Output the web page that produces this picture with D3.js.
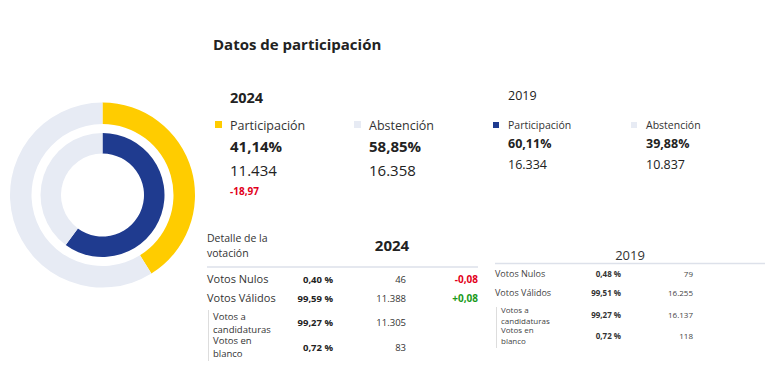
<!DOCTYPE html>
<html>
<head>
<meta charset="utf-8">
<script src="https://cdn.jsdelivr.net/npm/d3@7"></script>
<style>
  body { margin: 0; background: #fff; }
  svg text { font-family: "Open Sans", sans-serif; fill: #222; }
</style>
</head>
<body>
<script>
// participation data
const years = ["2024", "2019"];
const participacionPct = [41.14, 60.11];
const abstencionPct = [58.85, 39.88];
const participacionVotos = ["11.434", "16.334"];
const abstencionVotos = ["16.358", "10.837"];
const diffParticipacion = "-18,97";

// vote detail
const detalleLabels = [["Votos Nulos"], ["Votos Válidos"], ["Votos a", "candidaturas"], ["Votos en", "blanco"]];
const pct2024 = ["0,40 %", "99,59 %", "99,27 %", "0,72 %"];
const votos2024 = ["46", "11.388", "11.305", "83"];
const diff2024 = ["-0,08", "+0,08", "", ""];
const pct2019 = ["0,48 %", "99,51 %", "99,27 %", "0,72 %"];
const votos2019 = ["79", "16.255", "16.137", "118"];

const yellow = "#ffcc00", blue = "#1f3b8f", grey = "#e7ebf4";
const red = "#e2001a", green = "#1a9a1a";

const svg = d3.select("body").append("svg")
    .attr("width", 768)
    .attr("height", 389);

const fmt = v => d3.format(".2f")(v).replace(".", ",") + "%";

// Donut rings
const pie = d3.pie().sort(null).value(d => d);
const ring = svg.append("g").attr("transform", "translate(102.5,195)");

const rings = [
    { data: [participacionPct[0], 100 - participacionPct[0]], colors: [yellow, grey], inner: 71, outer: 92.5 },
    { data: [participacionPct[1], 100 - participacionPct[1]], colors: [blue, grey], inner: 41.5, outer: 62 }
];

rings.forEach(r => {
    const arc = d3.arc().innerRadius(r.inner).outerRadius(r.outer);
    ring.append("g").selectAll("path")
        .data(pie(r.data)).enter()
        .append("path")
        .attr("d", arc)
        .attr("fill", (d, i) => r.colors[i]);
});

// Title
svg.append("text")
    .attr("x", 213).attr("y", 50)
    .style("font-size", "15px").style("font-weight", "700")
    .text("Datos de participación");

// 2024 block
const b24 = svg.append("g");
b24.append("text").attr("x", 230).attr("y", 103)
    .style("font-size", "14.5px").style("font-weight", "700").text(years[0]);

[[215, yellow, "Participación", participacionPct[0], participacionVotos[0]],
 [354, grey, "Abstención", abstencionPct[0], abstencionVotos[0]]].forEach(c => {
    b24.append("rect").attr("x", c[0]).attr("y", 121).attr("width", 7).attr("height", 7).attr("fill", c[1]);
    b24.append("text").attr("x", c[0] + 15).attr("y", 130).style("font-size", "12.5px").style("fill", "#333").text(c[2]);
    b24.append("text").attr("x", c[0] + 15).attr("y", 152).style("font-size", "15px").style("font-weight", "700").text(fmt(c[3]));
    b24.append("text").attr("x", c[0] + 15).attr("y", 176).style("font-size", "15px").text(c[4]);
});
b24.append("text").attr("x", 230).attr("y", 195)
    .style("font-size", "10px").style("font-weight", "700").style("fill", red)
    .text(diffParticipacion);

// 2019 block
const b19 = svg.append("g");
b19.append("text").attr("x", 508).attr("y", 100)
    .style("font-size", "12.5px").text(years[1]);

[[493, blue, "Participación", participacionPct[1], participacionVotos[1]],
 [631, grey, "Abstención", abstencionPct[1], abstencionVotos[1]]].forEach(c => {
    b19.append("rect").attr("x", c[0]).attr("y", 122).attr("width", 6).attr("height", 6).attr("fill", c[1]);
    b19.append("text").attr("x", c[0] + 15).attr("y", 129).style("font-size", "10.5px").style("fill", "#333").text(c[2]);
    b19.append("text").attr("x", c[0] + 15).attr("y", 148).style("font-size", "12.5px").style("font-weight", "700").text(fmt(c[3]));
    b19.append("text").attr("x", c[0] + 15).attr("y", 169).style("font-size", "12.5px").text(c[4]);
});

// Detail table 2024
const t24 = svg.append("g");
t24.append("text").attr("x", 207).attr("y", 242).style("font-size", "10.5px").style("fill", "#333").text("Detalle de la");
t24.append("text").attr("x", 207).attr("y", 257).style("font-size", "10.5px").style("fill", "#333").text("votación");
t24.append("text").attr("x", 392).attr("y", 251).attr("text-anchor", "middle")
    .style("font-size", "15px").style("font-weight", "700").text(years[0]);
t24.append("line").attr("x1", 207).attr("x2", 478).attr("y1", 267).attr("y2", 267)
    .attr("stroke", "#dde1ea").attr("stroke-width", 1.5);
t24.append("line").attr("x1", 208.5).attr("x2", 208.5).attr("y1", 310).attr("y2", 361)
    .attr("stroke", "#dddddd").attr("stroke-width", 1);

const rowY24 = [283, 302, 326, 351];
const labelY24 = [[283], [302], [320, 333], [344, 357]];
detalleLabels.forEach((lab, i) => {
    lab.forEach((l, j) => {
        t24.append("text").attr("x", i < 2 ? 207 : 213).attr("y", labelY24[i][j])
            .style("font-size", i < 2 ? "11px" : "9.5px").style("fill", "#333").text(l);
    });
    t24.append("text").attr("x", 333).attr("y", rowY24[i]).attr("text-anchor", "end")
        .style("font-size", "9.5px").style("font-weight", "700").text(pct2024[i]);
    t24.append("text").attr("x", 406).attr("y", rowY24[i]).attr("text-anchor", "end")
        .style("font-size", "9.5px").style("fill", "#333").text(votos2024[i]);
    if (diff2024[i]) {
        t24.append("text").attr("x", 478).attr("y", rowY24[i]).attr("text-anchor", "end")
            .style("font-size", "10px").style("font-weight", "700")
            .style("fill", diff2024[i][0] === "-" ? red : green).text(diff2024[i]);
    }
});

// Detail table 2019
const t19 = svg.append("g");
t19.append("text").attr("x", 630).attr("y", 260).attr("text-anchor", "middle")
    .style("font-size", "13px").style("fill", "#333").text(years[1]);
t19.append("line").attr("x1", 495).attr("x2", 765).attr("y1", 263.5).attr("y2", 263.5)
    .attr("stroke", "#dde1ea").attr("stroke-width", 1.5);
t19.append("line").attr("x1", 496.5).attr("x2", 496.5).attr("y1", 307).attr("y2", 348)
    .attr("stroke", "#dddddd").attr("stroke-width", 1);

const rowY19 = [277, 296, 318, 339];
const labelY19 = [[277], [296], [313, 324], [333, 344]];
detalleLabels.forEach((lab, i) => {
    lab.forEach((l, j) => {
        t19.append("text").attr("x", i < 2 ? 495 : 501).attr("y", labelY19[i][j])
            .style("font-size", i < 2 ? "9px" : "8px").style("fill", "#444").text(l);
    });
    t19.append("text").attr("x", 621).attr("y", rowY19[i]).attr("text-anchor", "end")
        .style("font-size", "8px").style("font-weight", "700").style("fill", "#333").text(pct2019[i]);
    t19.append("text").attr("x", 693).attr("y", rowY19[i]).attr("text-anchor", "end")
        .style("font-size", "8px").style("fill", "#444").text(votos2019[i]);
});
</script>
</body>
</html>
